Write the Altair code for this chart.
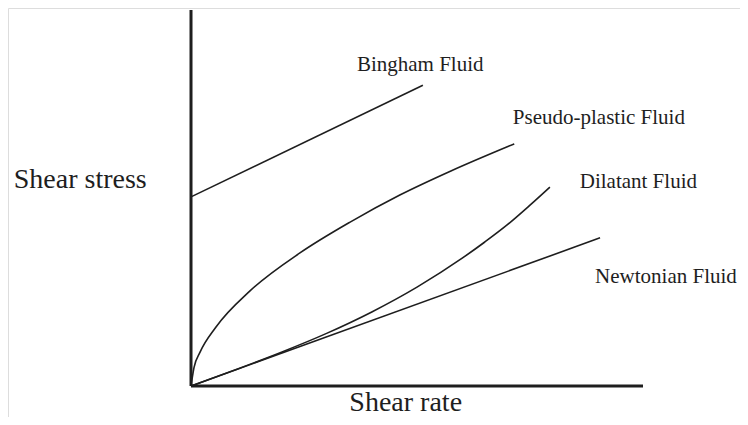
import altair as alt
import pandas as pd

# Curve data (shear rate, shear stress) in arbitrary units
bingham_x = [0.0, 5.13]
bingham_y = [5.03, 8.0]

pseudo_x = [0.0, 0.066, 0.2, 0.553, 1.305, 2.41, 3.52, 4.62, 5.75, 7.15]
pseudo_y = [0.0, 0.49, 0.90, 1.57, 2.53, 3.54, 4.36, 5.08, 5.72, 6.44]

dilatant_x = [0.0, 1.0, 2.0, 3.0, 4.0, 5.0, 6.0, 6.5, 7.0, 7.5, 7.94]
dilatant_y = [0.0, 0.44, 0.9, 1.4, 1.97, 2.63, 3.40, 3.83, 4.29, 4.81, 5.29]

newtonian_x = [0.0, 9.05]
newtonian_y = [0.0, 3.94]

# Labels
label_text = ["Bingham Fluid", "Pseudo-plastic Fluid", "Dilatant Fluid", "Newtonian Fluid"]
label_x = [3.67, 7.12, 8.6, 8.94]
label_y = [8.54, 7.13, 5.43, 2.9]

# Axis titles
stress_title = ["Shear stress"]
stress_x = [-2.45]
stress_y = [5.48]
rate_title = ["Shear rate"]
rate_x = [4.75]
rate_y = [-0.652]

# Axis frame extents
x_max = 10.0
y_max = 10.0

rows = []
for name, xs, ys in [("Bingham", bingham_x, bingham_y),
                     ("Pseudo", pseudo_x, pseudo_y),
                     ("Dilatant", dilatant_x, dilatant_y),
                     ("Newtonian", newtonian_x, newtonian_y)]:
    for i, (a, b) in enumerate(zip(xs, ys)):
        rows.append({"fluid": name, "i": i, "x": a, "y": b})
curves = pd.DataFrame(rows)

labels = pd.DataFrame({"t": label_text, "x": label_x, "y": label_y})
stress = pd.DataFrame({"t": stress_title, "x": stress_x, "y": stress_y})
rate = pd.DataFrame({"t": rate_title, "x": rate_x, "y": rate_y})
frame = pd.DataFrame({"x": [0.0, 0.0], "y": [0.0, 0.0], "x2": [0.0, x_max], "y2": [y_max, 0.0]})

xs = alt.Scale(domain=[-4.049, 12.146], nice=False, zero=False)
ys = alt.Scale(domain=[-0.824, 10.053], nice=False, zero=False)

INK = "#1e1e1e"
FONT = "Liberation Serif"

X = alt.X("x:Q", scale=xs, axis=None)
Y = alt.Y("y:Q", scale=ys, axis=None)

axes_layer = alt.Chart(frame).mark_rule(color=INK, strokeWidth=3).encode(
    x=X, y=Y, x2="x2:Q", y2="y2:Q",
)

lines = alt.Chart(curves).mark_line(color=INK, strokeWidth=1.6, interpolate="monotone").encode(
    x=X, y=Y, detail="fluid:N", order="i:Q",
)

label_layer = alt.Chart(labels).mark_text(
    align="left", baseline="middle", font=FONT, fontSize=21, color=INK
).encode(x=X, y=Y, text="t:N")

stress_layer = alt.Chart(stress).mark_text(
    align="center", baseline="middle", font=FONT, fontSize=28, color=INK
).encode(x=X, y=Y, text="t:N")

rate_layer = alt.Chart(rate).mark_text(
    align="center", baseline="alphabetic", font=FONT, fontSize=28, color=INK
).encode(x=X, y=Y, text="t:N")

chart = alt.layer(axes_layer, lines, label_layer, stress_layer, rate_layer).properties(
    width=732, height=409, padding=0,
    autosize=alt.AutoSizeParams(type="none"),
).configure_view(stroke=None).configure(background="white")

chart.save("out.html", embed_options={"renderer": "svg", "actions": False})
